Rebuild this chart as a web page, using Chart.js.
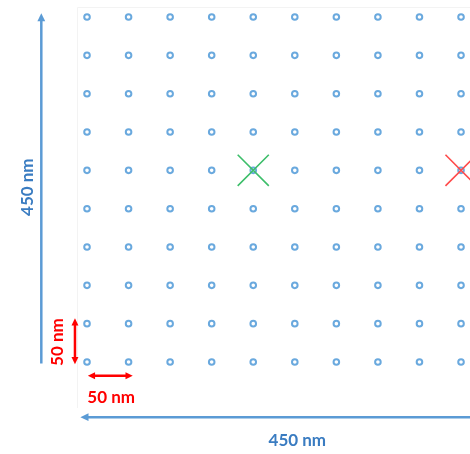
<!DOCTYPE html>
<html>
<head>
<meta charset="utf-8">
<script src="https://cdn.jsdelivr.net/npm/chart.js@4"></script>
<style>
  html, body { margin: 0; padding: 0; background: #fff; }
  #wrap { width: 470px; height: 454px; position: relative; }
</style>
</head>
<body>
<div id="wrap"><canvas id="chart"></canvas></div>
<script>
// grid of sites, 50 nm pitch (nm)
const gridX = [0, 50, 100, 150, 200, 250, 300, 350, 400, 450];
const gridY = [0, 50, 100, 150, 200, 250, 300, 350, 400, 450];
// marked sites
const greenMark = [{ x: 200, y: 250 }];
const redMark   = [{ x: 450, y: 250 }];
// scale labels
const spanLabel  = '450 nm';
const pitchLabel = '50 nm';

const sites = [];
gridY.forEach(y => gridX.forEach(x => sites.push({ x, y })));

const blue = '#5B9BD5', blueText = '#3A7CC1', red = '#FF0000';

function arrowHead(ctx, x, y, ang, size) {
    ctx.beginPath();
    ctx.moveTo(x, y);
    ctx.lineTo(x - size * Math.cos(ang - 0.45), y - size * Math.sin(ang - 0.45));
    ctx.lineTo(x - size * Math.cos(ang + 0.45), y - size * Math.sin(ang + 0.45));
    ctx.closePath();
    ctx.fill();
}

function arrow(ctx, x1, y1, x2, y2, color, width, headStart, headEnd, size) {
    ctx.save();
    ctx.strokeStyle = color; ctx.fillStyle = color; ctx.lineWidth = width;
    const ang = Math.atan2(y2 - y1, x2 - x1);
    const cut = size * 0.7;
    ctx.beginPath();
    ctx.moveTo(x1 + (headStart ? Math.cos(ang) * cut : 0), y1 + (headStart ? Math.sin(ang) * cut : 0));
    ctx.lineTo(x2 - (headEnd ? Math.cos(ang) * cut : 0), y2 - (headEnd ? Math.sin(ang) * cut : 0));
    ctx.stroke();
    if (headEnd) arrowHead(ctx, x2, y2, ang, size);
    if (headStart) arrowHead(ctx, x1, y1, ang + Math.PI, size);
    ctx.restore();
}

function label(ctx, text, x, y, color, rot) {
    ctx.save();
    ctx.translate(x, y);
    ctx.rotate(rot || 0);
    ctx.fillStyle = color;
    ctx.font = 'bold 17px Lato, "Open Sans", sans-serif';
    ctx.textAlign = 'center';
    ctx.textBaseline = 'middle';
    ctx.fillText(text, 0, 0);
    ctx.restore();
}

const dimensions = {
    id: 'dimensions',
    afterDatasetsDraw(chart) {
        const { ctx, scales: { x, y } } = chart;
        // faint frame of the drawing area
        ctx.save();
        ctx.strokeStyle = '#f3f3f3'; ctx.lineWidth = 1;
        ctx.beginPath();
        ctx.moveTo(Math.round(x.getPixelForValue(-12)) + 0.5, y.getPixelForValue(-60));
        ctx.lineTo(Math.round(x.getPixelForValue(-12)) + 0.5, Math.round(y.getPixelForValue(463)) + 0.5);
        ctx.lineTo(x.getPixelForValue(470), Math.round(y.getPixelForValue(463)) + 0.5);
        ctx.stroke();
        ctx.restore();

        // 450 nm vertical
        arrow(ctx, x.getPixelForValue(-55), y.getPixelForValue(-2), x.getPixelForValue(-55), y.getPixelForValue(455), blue, 2.5, false, true, 9);
        label(ctx, spanLabel, x.getPixelForValue(-71), y.getPixelForValue(228), blueText, -Math.PI / 2);
        // 450 nm horizontal
        arrow(ctx, x.getPixelForValue(470), y.getPixelForValue(-72), x.getPixelForValue(-8), y.getPixelForValue(-72), blue, 2.5, false, true, 9);
        label(ctx, spanLabel, x.getPixelForValue(253), y.getPixelForValue(-103), blueText, 0);
        // 50 nm vertical
        arrow(ctx, x.getPixelForValue(-14.5), y.getPixelForValue(-3), x.getPixelForValue(-14.5), y.getPixelForValue(57), red, 2.5, true, true, 8);
        label(ctx, pitchLabel, x.getPixelForValue(-36), y.getPixelForValue(26), red, -Math.PI / 2);
        // 50 nm horizontal
        arrow(ctx, x.getPixelForValue(1), y.getPixelForValue(-18), x.getPixelForValue(55), y.getPixelForValue(-18), red, 2.5, true, true, 8);
        label(ctx, pitchLabel, x.getPixelForValue(29), y.getPixelForValue(-46), red, 0);
    }
};

new Chart(document.getElementById('chart'), {
    type: 'scatter',
    data: {
        datasets: [
            { data: sites, pointStyle: 'circle', pointRadius: 2.8, pointBorderWidth: 2, borderColor: '#6AA9DE', backgroundColor: '#ffffff', order: 2 },
            { data: greenMark, pointStyle: 'crossRot', pointRadius: 22, pointBorderWidth: 1.6, borderColor: '#3DBE6A', order: 1 },
            { data: redMark, pointStyle: 'crossRot', pointRadius: 22, pointBorderWidth: 1.6, borderColor: '#FF4B4B', order: 1 }
        ]
    },
    options: {
        responsive: true, maintainAspectRatio: false, animation: false,
        layout: { padding: 0, autoPadding: false },
        plugins: { legend: { display: false }, tooltip: { enabled: false } },
        scales: {
            x: { type: 'linear', display: false, min: -104.7, max: 460.8 },
            y: { type: 'linear', display: false, min: -120, max: 472.2 }
        }
    },
    plugins: [dimensions]
});
</script>
</body>
</html>
